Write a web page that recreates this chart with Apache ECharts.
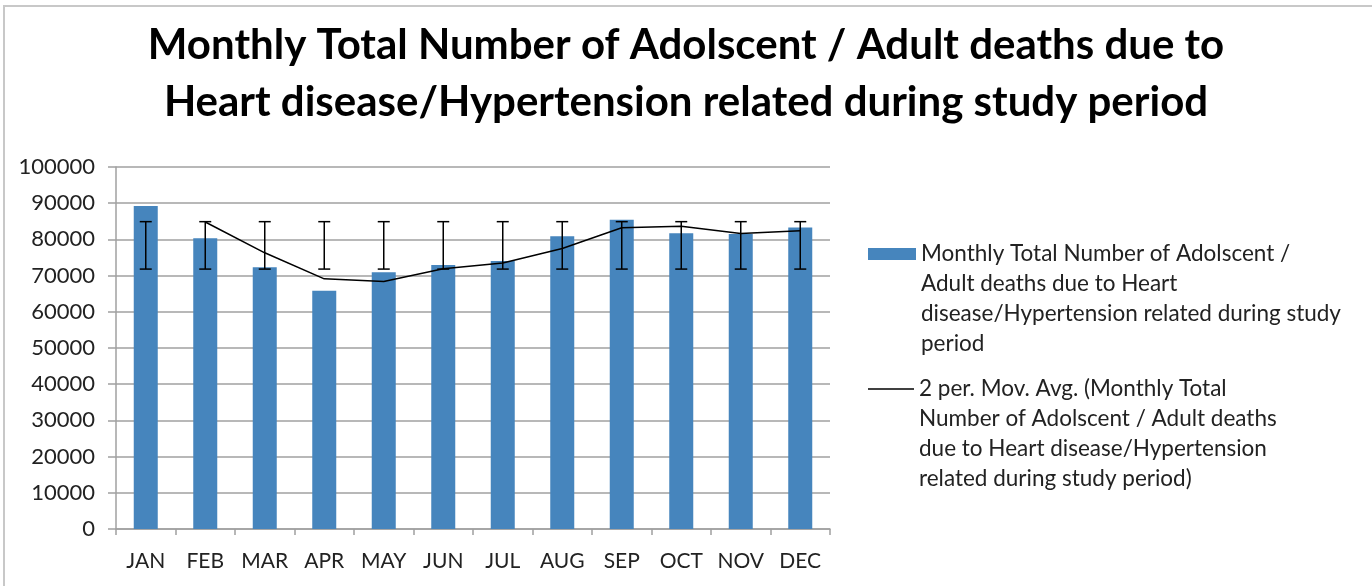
<!DOCTYPE html>
<html>
<head>
<meta charset="utf-8">
<script src="https://cdn.jsdelivr.net/npm/echarts@6/dist/echarts.min.js"></script>
<style>
html,body{margin:0;padding:0;background:#fff;}
#chart{width:1372px;height:586px;}
</style>
</head>
<body>
<div id="chart"></div>
<script>
const titleText = 'Monthly Total Number of Adolscent / Adult deaths due to\nHeart disease/Hypertension related during study period';
const categories = ['JAN','FEB','MAR','APR','MAY','JUN','JUL','AUG','SEP','OCT','NOV','DEC'];
const deaths = [89200, 80300, 72300, 65800, 70900, 72900, 74000, 80900, 85400, 81700, 81500, 83300];
const movingAvg = [null, 84800, 76300, 69100, 68400, 71900, 73500, 77500, 83200, 83600, 81600, 82400];
const errLow = [71800, 71800, 71800, 71800, 71800, 71800, 71800, 71800, 71800, 71800, 71800, 71800];
const errHigh = [84900, 84900, 84900, 84900, 84900, 84900, 84900, 84900, 84900, 84900, 84900, 84900];
const yTicks = [0, 10000, 20000, 30000, 40000, 50000, 60000, 70000, 80000, 90000, 100000];
const barName = 'Monthly Total Number of Adolscent / Adult deaths due to Heart disease/Hypertension related during study period';
const lineName = '2 per. Mov. Avg. (Monthly Total Number of Adolscent / Adult deaths due to Heart disease/Hypertension related during study period)';
const barLegendLines = ['Monthly Total Number of Adolscent /', 'Adult deaths due to Heart', 'disease/Hypertension related during study', 'period'];
const lineLegendLines = ['2 per. Mov. Avg. (Monthly Total', 'Number of Adolscent / Adult deaths', 'due to Heart disease/Hypertension', 'related during study period)'];

const FONT = 'Lato';
const chart = echarts.init(document.getElementById('chart'), null, {renderer: 'canvas'});

function legendText(lines) {
  // pad with blank lines above so the first line is centred on the icon
  const pad = new Array(lines.length - 1).fill('').join('\n');
  return pad + '\n' + lines.join('\n');
}

const errData = categories.map((c, i) => [i, errLow[i], errHigh[i]]);

const option = {
  backgroundColor: '#ffffff',
  animation: false,
  title: {
    text: titleText,
    left: 'center',
    top: 12,
    textStyle: {fontFamily: FONT, fontWeight: 'bold', fontSize: 42, lineHeight: 57, color: '#000'}
  },
  graphic: [{
    type: 'polyline',
    shape: {points: [[4, 586], [4, 6], [1372, 6]]},
    style: {stroke: '#c8c8c8', lineWidth: 2, fill: null},
    silent: true
  }],
  legend: [{
    data: [{name: barName, icon: 'rect'}],
    left: 868, top: 149, padding: 0,
    itemWidth: 48, itemHeight: 12,
    formatter: () => legendText(barLegendLines),
    textStyle: {fontFamily: FONT, fontSize: 22.5, lineHeight: 30, color: '#222'},
    selectedMode: false
  }, {
    data: [{name: lineName, icon: 'rect'}],
    left: 868, top: 284, padding: 0,
    itemWidth: 46, itemHeight: 1.5,
    formatter: () => legendText(lineLegendLines),
    textStyle: {fontFamily: FONT, fontSize: 22.5, lineHeight: 30, color: '#222'},
    selectedMode: false
  }],
  grid: {left: 116, top: 167, width: 714, height: 362, containLabel: false},
  xAxis: {
    type: 'category',
    data: categories,
    boundaryGap: true,
    axisLine: {show: true, lineStyle: {color: '#a0a0a0', width: 1.5}},
    axisTick: {show: true, length: 6, interval: 0, alignWithLabel: false, lineStyle: {color: '#a0a0a0', width: 1.5}},
    axisLabel: {fontFamily: FONT, fontSize: 21, color: '#222', margin: 22, interval: 0},
    splitLine: {show: false}
  },
  yAxis: {
    type: 'value',
    min: 0, max: 100000, interval: 10000,
    axisLine: {show: true, lineStyle: {color: '#a0a0a0', width: 1.5}},
    axisTick: {show: true, length: 8, lineStyle: {color: '#a0a0a0', width: 1.5}},
    axisLabel: {fontFamily: FONT, fontSize: 22, color: '#222', margin: 21,
      formatter: v => yTicks.includes(v) ? String(v) : ''},
    splitLine: {show: true, lineStyle: {color: '#a0a0a0', width: 1.5}}
  },
  series: [{
    name: barName,
    type: 'bar',
    data: deaths,
    barWidth: 24,
    itemStyle: {color: '#4685bd'},
    z: 2
  }, {
    name: 'Error bars',
    type: 'custom',
    data: errData,
    z: 4,
    silent: true,
    renderItem: function (params, api) {
      const x = api.value(0);
      const lo = api.coord([x, api.value(1)]);
      const hi = api.coord([x, api.value(2)]);
      const hw = 6;
      const st = {stroke: '#000', lineWidth: 1.5};
      return {
        type: 'group',
        children: [
          {type: 'line', shape: {x1: lo[0], y1: lo[1], x2: hi[0], y2: hi[1]}, style: st},
          {type: 'line', shape: {x1: hi[0] - hw, y1: hi[1], x2: hi[0] + hw, y2: hi[1]}, style: st},
          {type: 'line', shape: {x1: lo[0] - hw, y1: lo[1], x2: lo[0] + hw, y2: lo[1]}, style: st}
        ]
      };
    }
  }, {
    name: lineName,
    type: 'line',
    data: movingAvg,
    symbol: 'none',
    connectNulls: false,
    lineStyle: {color: '#000', width: 1.5},
    itemStyle: {color: '#000'},
    z: 5
  }]
};
chart.setOption(option);
</script>
</body>
</html>
